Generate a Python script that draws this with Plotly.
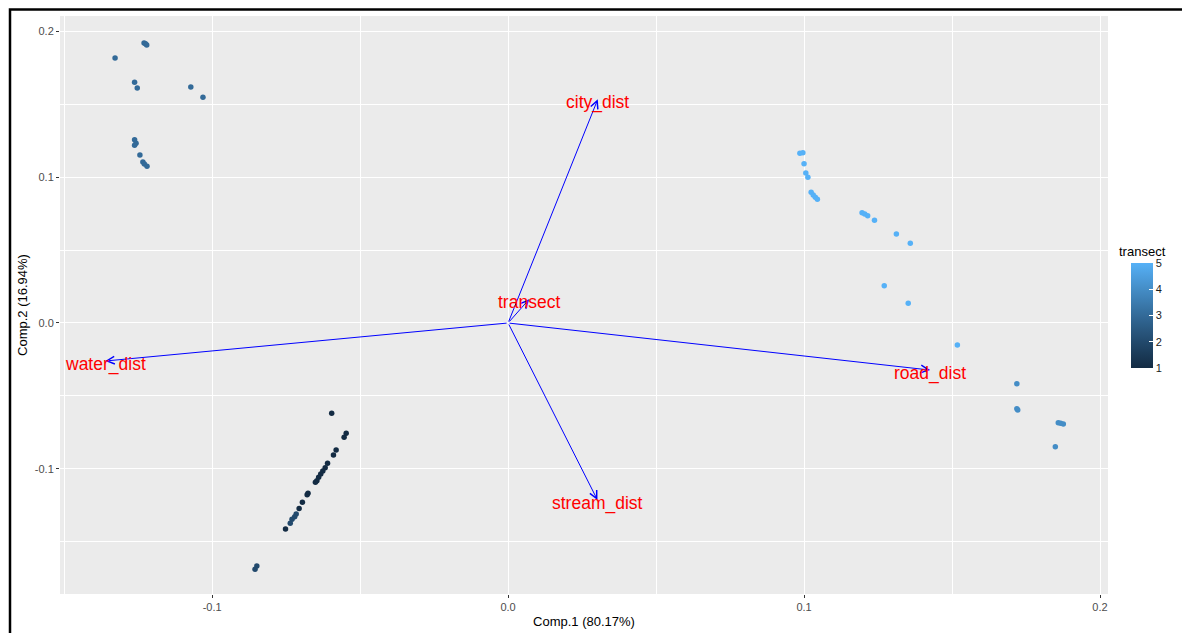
import plotly.graph_objects as go

# ---------------- data ----------------
comp1 = [
    # transect 3 (top-left)
    -0.1328, -0.1230, -0.1225, -0.1221, -0.1262, -0.1253, -0.1072, -0.1031,
    -0.1262, -0.1257, -0.1262, -0.1244, -0.1234, -0.1229, -0.1220,
    # transect 1/2 (bottom-left)
    -0.0596, -0.0547, -0.0554, -0.0581, -0.0590, -0.0610, -0.0618, -0.0626,
    -0.0633, -0.0640, -0.0646, -0.0651, -0.0676, -0.0679, -0.0695, -0.0706,
    -0.0716, -0.0721, -0.0730, -0.0736, -0.0752, -0.0849, -0.0855,
    # transect 5 (top-right)
    0.0986, 0.0996, 0.1000, 0.1006, 0.1013, 0.1024, 0.1031, 0.1038, 0.1045,
    0.1196, 0.1205, 0.1215, 0.1238, 0.1312, 0.1359, 0.1271, 0.1352, 0.1518,
    # transect 4 (bottom-right)
    0.1719, 0.1719, 0.1722, 0.1859, 0.1867, 0.1876, 0.1849,
]
comp2 = [
    0.1819, 0.1922, 0.1917, 0.1908, 0.1652, 0.1613, 0.1620, 0.1549,
    0.1258, 0.1233, 0.1220, 0.1153, 0.1105, 0.1091, 0.1076,
    -0.0620, -0.0757, -0.0784, -0.0872, -0.0906, -0.0963, -0.0993, -0.1016,
    -0.1036, -0.1059, -0.1082, -0.1093, -0.1169, -0.1178, -0.1231, -0.1274,
    -0.1311, -0.1329, -0.1347, -0.1375, -0.1414, -0.1668, -0.1690,
    0.1165, 0.1169, 0.1093, 0.1030, 0.1000, 0.0897, 0.0879, 0.0863, 0.0849,
    0.0757, 0.0748, 0.0736, 0.0705, 0.0611, 0.0547, 0.0256, 0.0135, -0.0151,
    -0.0417, -0.0588, -0.0597, -0.0684, -0.0688, -0.0693, -0.0849,
]
transect = (
    [3] * 15
    + [1] * 16 + [2, 2, 2, 2] + [1] + [2, 2]
    + [5] * 18
    + [4] * 7
)

var_names = ["water_dist", "road_dist", "city_dist", "stream_dist", "transect"]
load_x = [-0.1361, 0.1426, 0.0303, 0.0302, 0.0071]
load_y = [-0.0261, -0.0323, 0.1535, -0.1215, 0.0163]

x_ticks = [-0.1, 0.0, 0.1, 0.2]
y_ticks = [-0.1, 0.0, 0.1, 0.2]
x_ticktext = ["-0.1", "0.0", "0.1", "0.2"]
y_ticktext = ["-0.1", "0.0", "0.1", "0.2"]
cbar_ticks = [1, 2, 3, 4, 5]

# ---------------- ggplot-like Lab colour ramp ----------------
def _hex2rgb(h):
    h = h.lstrip("#")
    return [int(h[i:i + 2], 16) / 255 for i in (0, 2, 4)]

def _lin(c):
    return c / 12.92 if c <= 0.04045 else ((c + 0.055) / 1.055) ** 2.4

def _delin(c):
    c = 12.92 * c if c <= 0.0031308 else 1.055 * c ** (1 / 2.4) - 0.055
    return min(max(c, 0), 1)

WN = (0.95047, 1.0, 1.08883)

def _f(t):
    return t ** (1 / 3) if t > 0.008856 else 7.787 * t + 16 / 116

def _finv(t):
    return t ** 3 if t ** 3 > 0.008856 else (t - 16 / 116) / 7.787

def _to_lab(h):
    r, g, b = [_lin(c) for c in _hex2rgb(h)]
    X = 0.4124 * r + 0.3576 * g + 0.1805 * b
    Y = 0.2126 * r + 0.7152 * g + 0.0722 * b
    Z = 0.0193 * r + 0.1192 * g + 0.9505 * b
    fx, fy, fz = _f(X / WN[0]), _f(Y / WN[1]), _f(Z / WN[2])
    return (116 * fy - 16, 500 * (fx - fy), 200 * (fy - fz))

def _from_lab(L, a, b):
    fy = (L + 16) / 116
    fx = fy + a / 500
    fz = fy - b / 200
    X, Y, Z = WN[0] * _finv(fx), WN[1] * _finv(fy), WN[2] * _finv(fz)
    r = 3.2406 * X - 1.5372 * Y - 0.4986 * Z
    g = -0.9689 * X + 1.8758 * Y + 0.0415 * Z
    bb = 0.0557 * X - 0.2040 * Y + 1.0570 * Z
    return "#%02X%02X%02X" % tuple(round(_delin(c) * 255) for c in (r, g, bb))

lo, hi = _to_lab("#132B43"), _to_lab("#56B1F7")
n = 20
colorscale = []
for i in range(n + 1):
    t = i / n
    colorscale.append([t, _from_lab(*[lo[k] + (hi[k] - lo[k]) * t for k in range(3)])])

# ---------------- layout geometry ----------------
OFF = 8                      # page body margin
W, H = 1190 - OFF, 633 - OFF
PX0, PX1, PY0, PY1 = 60, 1108, 16, 594   # panel in window pixels
L, R = PX0 - OFF, W - (PX1 - OFF)
T, B = PY0 - OFF, H - (PY1 - OFF)
PW, PH = W - L - R, H - T - B

def px(xw):
    return (xw - PX0) / PW

def py(yw):
    return (PY1 - yw) / PH

FONT = "Liberation Sans, Arial"

fig = go.Figure()

fig.add_trace(go.Scatter(
    x=comp1, y=comp2, mode="markers",
    marker=dict(
        size=5.5, color=transect, colorscale=colorscale, cmin=1, cmax=5,
        line=dict(width=0),
        colorbar=dict(
            tickvals=cbar_ticks, ticktext=[str(v) for v in cbar_ticks],
            tickfont=dict(size=11, color="#1A1A1A", family=FONT),
            ticks="inside", ticklen=4, tickcolor="white", tickwidth=1,
            thickness=22, thicknessmode="pixels",
            len=105, lenmode="pixels",
            x=px(1131), xanchor="left",
            y=py(315.5), yanchor="middle",
            outlinewidth=0, xpad=0, ypad=0,
        ),
    ),
    hoverinfo="skip", showlegend=False,
))

# loading arrows
for vx, vy in zip(load_x, load_y):
    fig.add_annotation(
        x=vx, y=vy, ax=0, ay=0, xref="x", yref="y", axref="x", ayref="y",
        text="", showarrow=True, arrowhead=5, arrowsize=1.5, arrowwidth=1,
        arrowcolor="#0000FF", standoff=0, startstandoff=0,
    )

# loading labels
for name, vx, vy in zip(var_names, load_x, load_y):
    fig.add_annotation(
        x=vx, y=vy, xref="x", yref="y", showarrow=False,
        xanchor="center", yanchor="middle", yshift=-3,
        text=name, font=dict(color="#FF0000", size=17.5, family=FONT),
    )

# colourbar title
fig.add_annotation(
    x=px(1117), y=py(251), xref="paper", yref="paper",
    xanchor="left", yanchor="middle", showarrow=False,
    text="transect", font=dict(size=13, color="#000000", family=FONT),
)

# outer black frame
fig.add_shape(
    type="rect", xref="paper", yref="paper",
    x0=px(10), x1=px(1188), y0=py(660), y1=py(9.5),
    line=dict(color="#000000", width=2.5), fillcolor="rgba(0,0,0,0)", layer="above",
)

axis_common = dict(
    showgrid=True, gridcolor="#FFFFFF", gridwidth=1.1,
    minor=dict(showgrid=True, gridcolor="#FFFFFF", gridwidth=0.5, dtick=0.05, tick0=0.05),
    zeroline=False, showline=False,
    ticks="outside", ticklen=3, tickcolor="#333333", tickwidth=1,
    tickfont=dict(size=11, color="#4D4D4D", family=FONT),
)

fig.update_layout(
    width=W, height=H,
    margin=dict(l=L, r=R, t=T, b=B, autoexpand=False),
    paper_bgcolor="#FFFFFF", plot_bgcolor="#EBEBEB",
    font=dict(family=FONT, color="#000000"),
    xaxis=dict(
        range=[-0.1514, 0.2027], tickvals=x_ticks, ticktext=x_ticktext,
        title=dict(text="Comp.1 (80.17%)", font=dict(size=13, color="#000000"), standoff=4),
        **axis_common,
    ),
    yaxis=dict(
        range=[-0.186, 0.2107], tickvals=y_ticks, ticktext=y_ticktext,
        title=dict(text="Comp.2 (16.94%)", font=dict(size=13, color="#000000"), standoff=4),
        **axis_common,
    ),
    showlegend=False,
)

fig.write_html("out.html")
